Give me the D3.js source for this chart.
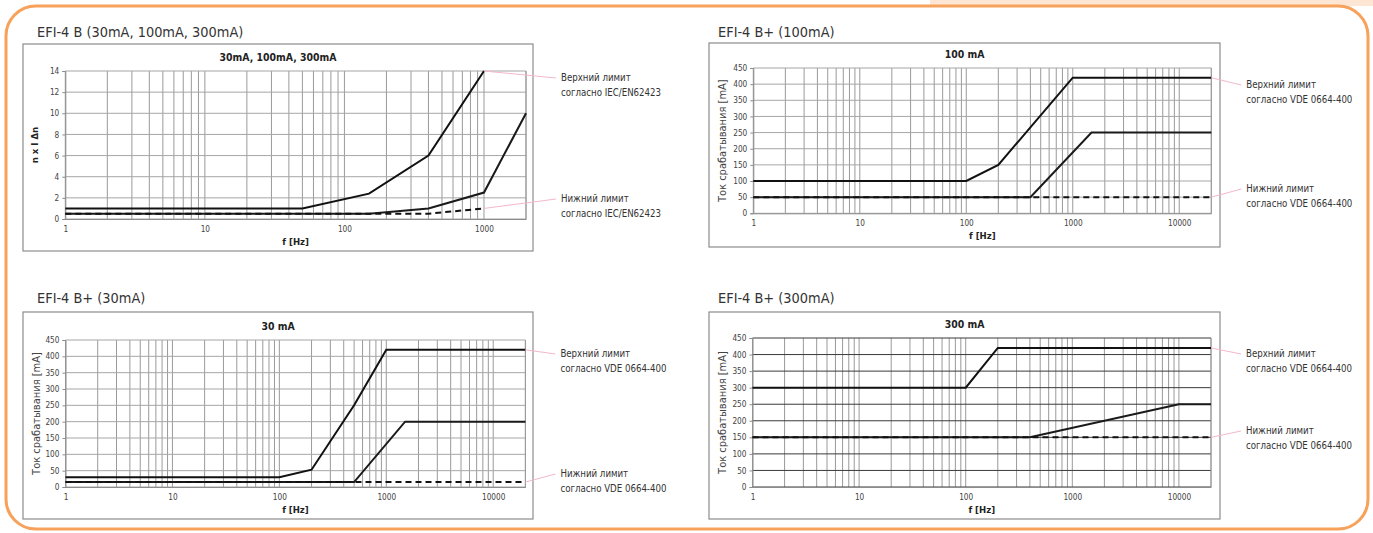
<!DOCTYPE html>
<html>
<head>
<meta charset="utf-8">
<script src="https://cdn.jsdelivr.net/npm/d3@7"></script>
<style>
  body { margin: 0; background: #fff; }
  svg text { font-family: "Liberation Sans Narrow", "DejaVu Sans Condensed", sans-serif; }
</style>
</head>
<body>
<svg id="chart" width="1373" height="533"></svg>
<script>
// ---- data ----
const headings = ["EFI-4 B (30mA, 100mA, 300mA)", "EFI-4 B+ (100mA)", "EFI-4 B+ (30mA)", "EFI-4 B+ (300mA)"];
const titles = ["30mA, 100mA, 300mA", "100 mA", "30 mA", "300 mA"];
const yLabels = ["n x I \u0394n", "Ток срабатывания [mA]", "Ток срабатывания [mA]", "Ток срабатывания [mA]"];
const upperNote = [["Верхний лимит", "согласно IEC/EN62423"], ["Верхний лимит", "согласно VDE 0664-400"]];
const lowerNote = [["Нижний лимит", "согласно IEC/EN62423"], ["Нижний лимит", "согласно VDE 0664-400"]];

const freqDomains = [[1, 2000], [1, 20000], [1, 20000], [1, 20000]];
const freqTicks = [[1, 10, 100, 1000], [1, 10, 100, 1000, 10000], [1, 10, 100, 1000, 10000], [1, 10, 100, 1000, 10000]];
const yTicksN = [0, 2, 4, 6, 8, 10, 12, 14];
const yTicksMA = [0, 50, 100, 150, 200, 250, 300, 350, 400, 450];

// [frequency Hz, value]
const efiB_upper = [[1, 1], [50, 1], [150, 2.4], [400, 6], [1000, 14]];
const efiB_trip = [[1, 0.5], [150, 0.5], [400, 1], [1000, 2.5], [2000, 10]];
const efiB_lower = [[1, 0.5], [400, 0.5], [1000, 1]];

const b100_upper = [[1, 100], [100, 100], [200, 150], [1000, 420], [20000, 420]];
const b100_trip = [[1, 50], [400, 50], [1500, 250], [20000, 250]];
const b100_lower = [[1, 50], [20000, 50]];

const b30_upper = [[1, 30], [100, 30], [200, 53], [500, 250], [1000, 420], [20000, 420]];
const b30_trip = [[1, 15], [500, 15], [1500, 200], [20000, 200]];
const b30_lower = [[1, 15], [20000, 15]];

const b300_upper = [[1, 300], [100, 300], [200, 420], [20000, 420]];
const b300_trip = [[1, 150], [400, 150], [10000, 250], [20000, 250]];
const b300_lower = [[1, 150], [20000, 150]];

// ---- layout ----
const svg = d3.select("#chart");
const fontMain = "Liberation Sans Narrow, DejaVu Sans Condensed, sans-serif";

// top-right peach band and the orange frame
svg.append("rect").attr("x", 930).attr("y", 0).attr("width", 443).attr("height", 6).attr("fill", "#fde6d4");
svg.append("rect")
  .attr("x", 6).attr("y", 6).attr("width", 1362).attr("height", 523)
  .attr("rx", 30).attr("ry", 30)
  .attr("fill", "none").attr("stroke", "#f7a15a").attr("stroke-width", 3);

const charts = [
  { box: [23, 44, 510, 207], plot: [65.3, 71, 526, 219], head: [37, 37], yMax: 14, yTicks: yTicksN, bold: true,
    series: [efiB_upper, efiB_trip, efiB_lower], notes: 0, noteY: [77, 198], gridY: "#a6a6a6" },
  { box: [709, 43, 511, 204], plot: [753.3, 68, 1211.3, 213.3], head: [718, 37], yMax: 450, yTicks: yTicksMA, bold: false,
    series: [b100_upper, b100_trip, b100_lower], notes: 1, noteY: [84, 188], gridY: "#a6a6a6" },
  { box: [23, 312, 510, 207], plot: [65.5, 340, 525.4, 487], head: [37, 303], yMax: 450, yTicks: yTicksMA, bold: false,
    series: [b30_upper, b30_trip, b30_lower], notes: 1, noteY: [353, 473], gridY: "#a6a6a6" },
  { box: [709, 312, 511, 207], plot: [752.5, 338, 1211, 487], head: [718, 303], yMax: 450, yTicks: yTicksMA, bold: false,
    series: [b300_upper, b300_trip, b300_lower], notes: 1, noteY: [353, 430], gridY: "#3a3a3a" }
];

charts.forEach(function(c, i) {
  const [l, t, r, b] = c.plot;
  const x = d3.scaleLog().domain(freqDomains[i]).range([l, r]);
  const y = d3.scaleLinear().domain([0, c.yMax]).range([b, t]);

  // heading above the box
  svg.append("text")
    .attr("x", c.head[0]).attr("y", c.head[1])
    .attr("font-size", 14.4).attr("fill", "#333")
    .text(headings[i]);

  // chart box
  svg.append("rect")
    .attr("x", c.box[0]).attr("y", c.box[1]).attr("width", c.box[2]).attr("height", c.box[3])
    .attr("fill", "#fff").attr("stroke", "#8c8c8c").attr("stroke-width", 1.2);

  // title
  svg.append("text")
    .attr("x", c.box[0] + c.box[2] / 2).attr("y", t - 10)
    .attr("text-anchor", "middle").attr("font-size", 10.4).attr("font-weight", "bold").attr("fill", "#222")
    .text(titles[i]);

  // vertical grid (log sub-ticks)
  svg.append("g").selectAll("line")
    .data(x.ticks())
    .join("line")
    .attr("x1", d => x(d)).attr("x2", d => x(d))
    .attr("y1", t).attr("y2", b)
    .attr("stroke", "#9a9a9a").attr("stroke-width", 1);

  // horizontal grid
  svg.append("g").selectAll("line")
    .data(c.yTicks)
    .join("line")
    .attr("x1", l).attr("x2", r)
    .attr("y1", d => y(d)).attr("y2", d => y(d))
    .attr("stroke", c.gridY).attr("stroke-width", 1);

  // plot right border
  svg.append("line").attr("x1", r).attr("x2", r).attr("y1", t).attr("y2", b)
    .attr("stroke", "#9a9a9a");

  // axes
  const gy = svg.append("g")
    .attr("transform", `translate(${l},0)`)
    .call(d3.axisLeft(y).tickValues(c.yTicks).tickSize(3).tickPadding(3).tickFormat(d3.format("d")));
  const gx = svg.append("g")
    .attr("transform", `translate(0,${b})`)
    .call(d3.axisBottom(x).tickValues(freqTicks[i]).tickSize(0).tickPadding(7).tickFormat(d3.format("d")));
  [gx, gy].forEach(function(g) {
    g.select(".domain").attr("stroke", "#8c8c8c");
    g.selectAll(".tick line").attr("stroke", "#8c8c8c");
    g.selectAll("text").attr("font-size", 8.2).attr("fill", "#444").attr("font-family", fontMain);
  });

  // axis titles
  svg.append("text")
    .attr("x", (l + r) / 2).attr("y", b + 26)
    .attr("text-anchor", "middle").attr("font-size", 9.5).attr("font-weight", "bold").attr("fill", "#222")
    .text("f [Hz]");
  svg.append("text")
    .attr("transform", `translate(${c.box[0] + (c.bold ? 15 : 17)},${(t + b) / 2}) rotate(-90)`)
    .attr("text-anchor", "middle")
    .attr("font-size", c.bold ? 9.5 : 11)
    .attr("font-weight", c.bold ? "bold" : "normal")
    .attr("fill", c.bold ? "#222" : "#444")
    .text(yLabels[i]);

  // data lines
  const line = d3.line().x(d => x(d[0])).y(d => y(d[1]));
  svg.append("path").datum(c.series[0]).attr("d", line)
    .attr("fill", "none").attr("stroke", "#111").attr("stroke-width", 2);
  svg.append("path").datum(c.series[1]).attr("d", line)
    .attr("fill", "none").attr("stroke", "#1a1a1a").attr("stroke-width", 2);
  svg.append("path").datum(c.series[2]).attr("d", line)
    .attr("fill", "none").attr("stroke", "#111").attr("stroke-width", 2).attr("stroke-dasharray", "6,4");

  // notes with pink leader lines
  const up = c.series[0][c.series[0].length - 1];
  const lo = c.series[2][c.series[2].length - 1];
  const nx = r + 35;
  [[up, c.noteY[0], upperNote[c.notes]], [lo, c.noteY[1], lowerNote[c.notes]]].forEach(function(n) {
    svg.append("line")
      .attr("x1", x(n[0][0])).attr("y1", y(n[0][1]))
      .attr("x2", nx - 5).attr("y2", n[1] + 1)
      .attr("stroke", "#f2b8c8").attr("stroke-width", 1);
    n[2].forEach(function(s, k) {
      svg.append("text")
        .attr("x", nx).attr("y", n[1] + 4 + k * 15)
        .attr("font-size", 9.6).attr("fill", "#333")
        .text(s);
    });
  });
});
</script>
</body>
</html>
